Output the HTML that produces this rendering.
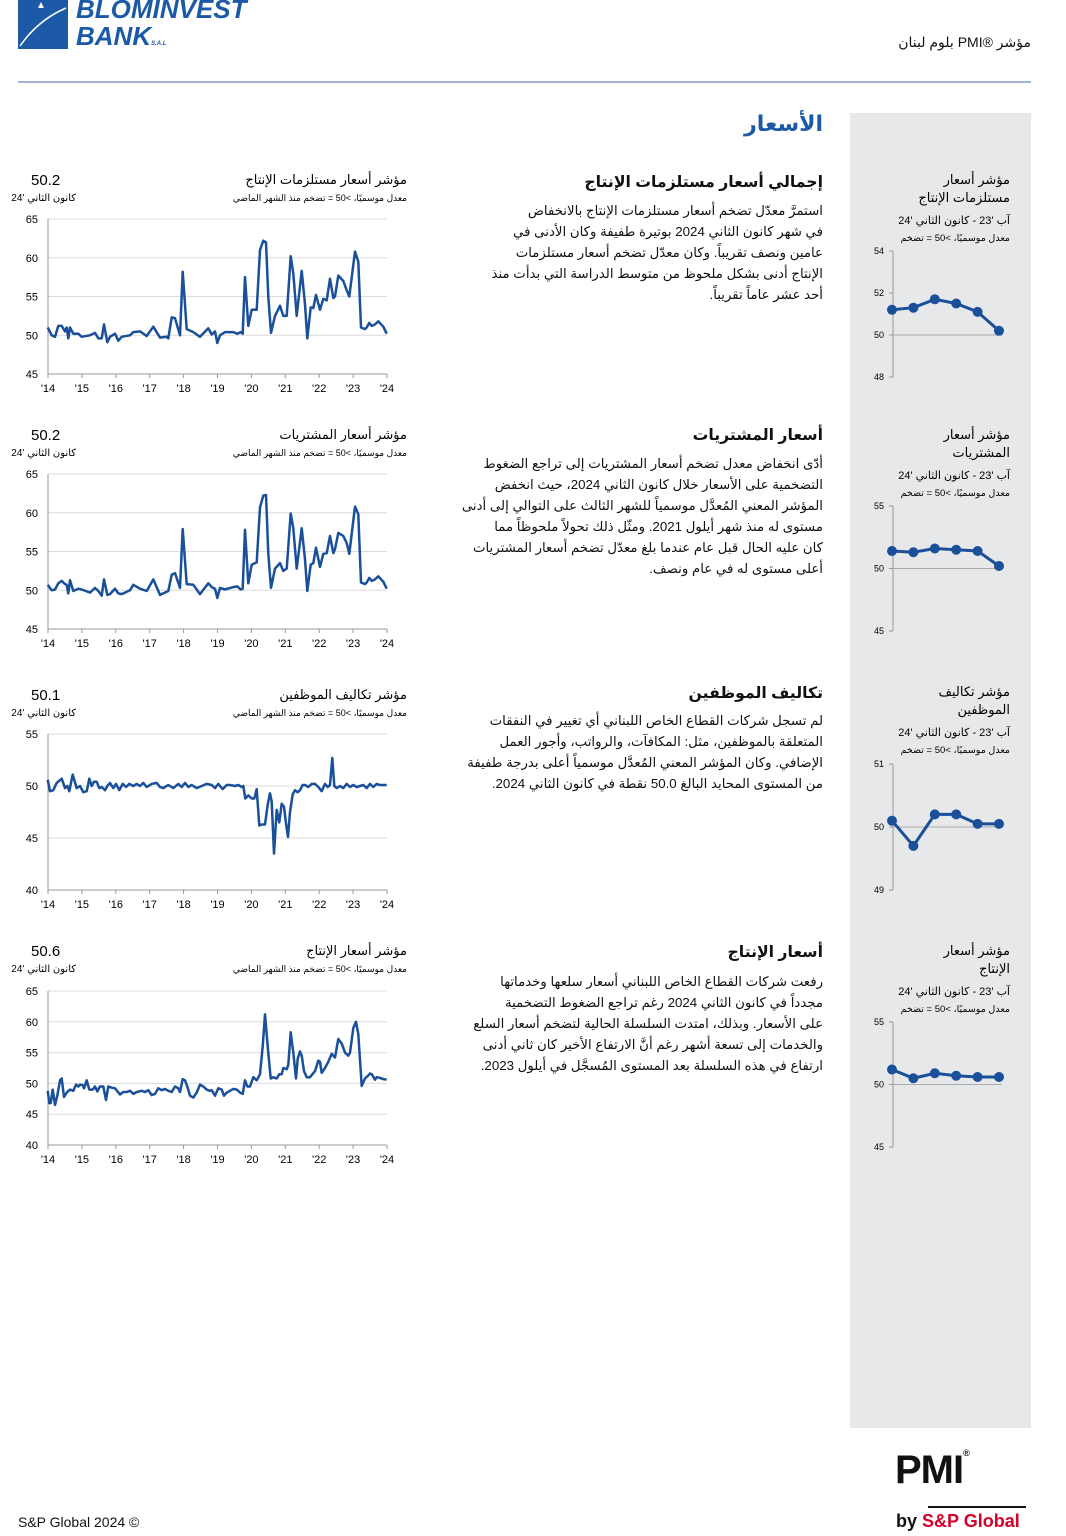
<!DOCTYPE html>
<html><head><meta charset="utf-8">
<style>
body{margin:0;width:1066px;height:1536px;background:#fff;position:relative;overflow:hidden;font-family:"Liberation Sans","DejaVu Sans",sans-serif;color:#111}
.a{position:absolute;white-space:nowrap}
.r{direction:rtl;text-align:right}
.h{font-weight:bold;font-size:15.7px;color:#111}
.p{font-size:13.3px;line-height:21px;color:#111}
</style></head><body>
<div class="a" style="left:850px;top:113px;width:181px;height:1315px;background:#e7e8ea"></div>
<div class="a" style="left:18px;top:0;width:50px;height:49px;background:#1c5aa8"></div>
<svg class="a" style="left:18px;top:0" width="50" height="49"><path d="M2 46 Q20 20 48 8" stroke="#fff" stroke-width="1.5" fill="none"/><path d="M20 8 l3 -6 l3 6 z" fill="#fff"/></svg>
<div class="a" style="left:76px;top:-4px;font:italic bold 26px 'Liberation Sans',sans-serif;color:#1c5aa8;line-height:27px">BLOMINVEST<br>BANK<span style="font-size:6px">S.A.L</span></div>
<div class="a r" style="right:35px;top:34px;font-size:14px">مؤشر ®PMI بلوم لبنان</div>
<div class="a" style="left:18px;top:81px;width:1013px;height:1.5px;background:#9fb3d4"></div>
<div class="a r" style="right:243px;top:111px;font-size:22px;font-weight:bold;color:#1c5aa8">الأسعار</div>

<div class="a r h" style="right:243px;top:172px">إجمالي أسعار مستلزمات الإنتاج</div>
<div class="a r p" style="right:243px;top:200px">استمرَّ معدّل تضخم أسعار مستلزمات الإنتاج بالانخفاض<br>في شهر كانون الثاني 2024 بوتيرة طفيفة وكان الأدنى في<br>عامين ونصف تقريباً. وكان معدّل تضخم أسعار مستلزمات<br>الإنتاج أدنى بشكل ملحوظ من متوسط الدراسة التي بدأت منذ<br>أحد عشر عاماً تقريباً.</div>

<div class="a r h" style="right:243px;top:425px">أسعار المشتريات</div>
<div class="a r p" style="right:243px;top:453px">أدّى انخفاض معدل تضخم أسعار المشتريات إلى تراجع الضغوط<br>التضخمية على الأسعار خلال كانون الثاني 2024، حيث انخفض<br>المؤشر المعني المُعدَّل موسمياً للشهر الثالث على التوالي إلى أدنى<br>مستوى له منذ شهر أيلول 2021. ومثّل ذلك تحولاً ملحوظاً مما<br>كان عليه الحال قبل عام عندما بلغ معدّل تضخم أسعار المشتريات<br>أعلى مستوى له في عام ونصف.</div>

<div class="a r h" style="right:243px;top:683px">تكاليف الموظفين</div>
<div class="a r p" style="right:243px;top:710px">لم تسجل شركات القطاع الخاص اللبناني أي تغيير في النفقات<br>المتعلقة بالموظفين، مثل: المكافآت، والرواتب، وأجور العمل<br>الإضافي. وكان المؤشر المعني المُعدَّل موسمياً أعلى بدرجة طفيفة<br>من المستوى المحايد البالغ 50.0 نقطة في كانون الثاني 2024.</div>

<div class="a r h" style="right:243px;top:942px">أسعار الإنتاج</div>
<div class="a r p" style="right:243px;top:971px">رفعت شركات القطاع الخاص اللبناني أسعار سلعها وخدماتها<br>مجدداً في كانون الثاني 2024 رغم تراجع الضغوط التضخمية<br>على الأسعار. وبذلك، امتدت السلسلة الحالية لتضخم أسعار السلع<br>والخدمات إلى تسعة أشهر رغم أنَّ الارتفاع الأخير كان ثاني أدنى<br>ارتفاع في هذه السلسلة بعد المستوى المُسجَّل في أيلول 2023.</div>

<svg id="s" class="a" style="left:0;top:0" width="1066" height="1536" font-family="Liberation Sans, DejaVu Sans, sans-serif"></svg>

<div class="a" style="left:18px;top:1514px;font-size:14px">S&amp;P Global 2024 ©</div>
<div class="a" style="left:895px;top:1448px;font-size:40px;font-weight:bold;letter-spacing:-1px">PMI<span style="font-size:9px;vertical-align:top">®</span></div>
<div class="a" style="left:928px;top:1506px;width:98px;height:2px;background:#111"></div>
<div class="a" style="left:896px;top:1511px;font-size:18px;font-weight:bold">by <span style="color:#d6002a">S&amp;P Global</span></div>

<script>
const S=document.getElementById('s');let h='';
const B='#1a4f9a';
const c1=[[143,51],[155,50],[165,49.8],[175,51.2],[185,51.2],[195,50.5],[200,51],[205,49.6],[210,51],[220,50.2],[235,50.2],[245,49.8],[270,50],[285,50.3],[295,49.6],[305,49.6],[312,51.4],[322,49.1],[330,49.8],[345,50.2],[355,49.3],[365,49.8],[390,50],[400,50.4],[420,50.5],[440,49.9],[460,51.1],[480,49.7],[500,49.8],[505,49.6],[515,52.3],[525,52.2],[540,50],[548,58.2],[560,50.8],[580,50.4],[600,49.8],[625,50.9],[635,50.1],[645,50.5],[652,49],[660,50],[675,50.4],[700,50.4],[712,50.2],[722,50.4],[728,50.2],[735,57.5],[745,51.2],[755,53.3],[770,53.3],[780,61],[790,62.2],[798,62],[805,55],[813,50.3],[825,52.5],[840,53.8],[850,52.5],[860,52.5],[872,60.2],[880,58],[890,52.5],[905,58.3],[915,54],[922,49.6],[932,53.6],[940,53.5],[948,55.2],[960,53.3],[970,54.7],[980,54.5],[990,57.3],[1000,54.8],[1005,55],[1015,57.7],[1030,57],[1040,55.8],[1048,55],[1065,60.8],[1075,59.5],[1083,51],[1095,50.8],[1100,51],[1108,51.6],[1115,51.2],[1125,51.4],[1135,51.8],[1150,51.1],[1160,50.2]];
const c2=c1.map(([x,v],i)=>[x,x<1080? v+((i%3)-1)*0.3 : v]);
const c3=[[143,50.6],[150,49.5],[160,49.6],[170,50.3],[185,50.7],[195,49.8],[202,50],[208,49.5],[218,51.1],[230,49.8],[240,50],[250,49.4],[260,49.5],[268,50.7],[275,50],[282,50.4],[290,50.4],[298,49.8],[305,49.9],[315,49.6],[322,50],[330,50.3],[340,49.8],[348,50.2],[358,49.6],[368,50.2],[378,49.9],[388,50.2],[400,50],[410,50.2],[420,50],[430,50.3],[440,49.9],[455,50.2],[470,50.3],[480,49.9],[490,49.8],[505,50.1],[520,49.8],[535,50.2],[545,49.9],[555,50.3],[565,49.9],[575,50.1],[590,49.8],[605,50],[620,50.2],[635,50.1],[645,49.8],[655,50.2],[668,49.7],[680,50.1],[690,50.1],[705,50],[715,50.1],[725,49.9],[730,50],[736,48.8],[745,49.1],[755,48.8],[763,48.8],[770,49.7],[778,46.2],[785,46.3],[795,46.3],[803,48.2],[810,49.3],[815,48.5],[822,43.5],[830,47.7],[838,46.5],[845,48.3],[852,48],[858,46.4],[864,45.1],[870,47.5],[878,49.2],[885,49.6],[893,49.4],[900,49.6],[908,50.1],[915,50.1],[925,49.9],[935,50.2],[945,50.2],[955,49.9],[965,49.5],[975,50.2],[983,49.9],[990,50.1],[997,52.7],[1003,50],[1010,49.8],[1020,50],[1030,49.8],[1040,50.2],[1050,49.9],[1060,50.1],[1070,49.9],[1080,50],[1090,50.1],[1100,49.8],[1110,50.2],[1120,49.9],[1130,50.2],[1140,50.1],[1160,50.1]];
const c4=[[143,48.8],[148,46.8],[152,46.8],[158,49],[165,46.5],[172,48],[180,50.5],[185,50.8],[192,47.8],[200,48.5],[210,49],[220,48.8],[228,49.8],[235,49.5],[240,49.8],[248,49.7],[252,49.2],[260,50.5],[268,49],[278,49],[285,49.5],[292,48.7],[300,49.5],[310,49.5],[318,47.3],[325,49.5],[335,49.3],[345,49.2],[360,48.2],[370,48.6],[380,48.6],[390,48.8],[400,48.3],[410,48.6],[425,48.8],[435,48.6],[445,48.9],[455,48.1],[465,48.3],[475,49.2],[485,48.9],[495,49.1],[505,48.8],[515,48.6],[525,49.5],[535,49.2],[540,48.6],[548,50.7],[555,50.5],[562,49.5],[570,48],[580,47.7],[590,48.5],[600,49.8],[610,49.5],[620,49],[628,48.8],[635,48.9],[645,48],[655,49.2],[665,49],[672,48],[680,48.5],[690,48.8],[700,49.1],[710,49],[720,48.5],[728,48.3],[735,50.5],[742,49.5],[750,49.5],[760,51],[770,50.5],[780,51.5],[788,56],[795,61.2],[803,56],[812,50.8],[820,51],[830,50.8],[838,51.5],[845,51.5],[850,52.5],[860,52.3],[865,53],[872,58.3],[880,55],[888,50.8],[893,54],[900,55.2],[905,54.5],[912,52],[920,51],[930,51],[945,52],[955,53.7],[960,53.5],[965,51.7],[975,52.5],[985,53.5],[995,54.8],[1000,54.5],[1005,54.2],[1015,57.2],[1025,56.5],[1035,55],[1045,54.5],[1050,55],[1060,59],[1068,60],[1075,58],[1085,49.6],[1095,50.8],[1105,51.3],[1110,51.6],[1115,51.5],[1125,50.6],[1130,51],[1140,50.9],[1150,50.7],[1160,50.6]];
function big(d,top,bot,max,min,step,val,t1,yh){
 const sc=(bot-top)/(max-min),Y=v=>top+(max-v)*sc;
 for(let v=min;v<=max;v+=step){h+=`<line x1="48" x2="387" y1="${Y(v)}" y2="${Y(v)}" stroke="#dcdcdc" stroke-width="1"/><text x="38" y="${Y(v)+4}" font-size="11" text-anchor="end">${v}</text>`}
 h+=`<line x1="48" x2="48" y1="${top}" y2="${bot}" stroke="#999"/><line x1="48" x2="387" y1="${bot}" y2="${bot}" stroke="#999"/>`;
 for(let i=0;i<=10;i++){let x=48+i*33.9;h+=`<line x1="${x}" x2="${x}" y1="${bot}" y2="${bot+4}" stroke="#999"/><text x="${x}" y="${bot+18}" font-size="11" text-anchor="middle">'${14+i}</text>`}
 h+=`<polyline fill="none" stroke="${B}" stroke-width="2.5" stroke-linejoin="round" points="${d.map(([x,v])=>(x/3).toFixed(1)+','+Y(v).toFixed(1)).join(' ')}"/>`;
 h+=`<text x="31" y="${yh+5}" font-size="15">${val}</text><text x="76" y="${yh+21}" font-size="10" text-anchor="start" direction="rtl">كانون الثاني '24</text>`;
 h+=`<text x="407" y="${yh+4}" font-size="13" text-anchor="start" direction="rtl">${t1}</text><text x="407" y="${yh+21}" font-size="9" direction="rtl">معدل موسميًا، &gt;50 = تضخم منذ الشهر الماضي</text>`;
}
big(c1,219,374,65,45,5,'50.2','مؤشر أسعار مستلزمات الإنتاج',180);
big(c2,474,629,65,45,5,'50.2','مؤشر أسعار المشتريات',435);
big(c3,734,890,55,40,5,'50.1','مؤشر تكاليف الموظفين',695);
big(c4,991,1145,65,40,5,'50.6','مؤشر أسعار الإنتاج',951);
function mini(vals,top,bot,max,min,step,l1,l2,yh){
 const sc=(bot-top)/(max-min),Y=v=>top+(max-v)*sc;
 for(let v=min;v<=max;v+=step){h+=`<line x1="889" x2="893" y1="${Y(v)}" y2="${Y(v)}" stroke="#999"/><text x="884" y="${Y(v)+3}" font-size="9" text-anchor="end">${v}</text>`}
 h+=`<line x1="893" x2="893" y1="${top}" y2="${bot}" stroke="#999"/><line x1="893" x2="1002" y1="${Y(50)}" y2="${Y(50)}" stroke="#aaa"/>`;
 const p=vals.map((v,i)=>[892+i*21.4,Y(v)]);
 h+=`<polyline fill="none" stroke="${B}" stroke-width="3" points="${p.map(a=>a.join(',')).join(' ')}"/>`;
 p.forEach(a=>h+=`<circle cx="${a[0]}" cy="${a[1]}" r="5" fill="${B}"/>`);
 h+=`<text x="1010" y="${yh+4}" font-size="13" direction="rtl">${l1}</text><text x="1010" y="${yh+22}" font-size="13" direction="rtl">${l2}</text>`;
 h+=`<text x="1010" y="${yh+44}" font-size="11" direction="rtl">آب '23 - كانون الثاني '24</text><text x="1010" y="${yh+61}" font-size="9.5" direction="rtl">معدل موسميًا، &gt;50 = تضخم</text>`;
}
mini([51.2,51.3,51.7,51.5,51.1,50.2],251,377,54,48,2,'مؤشر أسعار','مستلزمات الإنتاج',180);
mini([51.4,51.3,51.6,51.5,51.4,50.2],506,631,55,45,5,'مؤشر أسعار','المشتريات',435);
mini([50.1,49.7,50.2,50.2,50.05,50.05],764,890,51,49,1,'مؤشر تكاليف','الموظفين',692);
mini([51.2,50.5,50.9,50.7,50.6,50.6],1022,1147,55,45,5,'مؤشر أسعار','الإنتاج',951);
S.innerHTML=h;
</script>
</body></html>
